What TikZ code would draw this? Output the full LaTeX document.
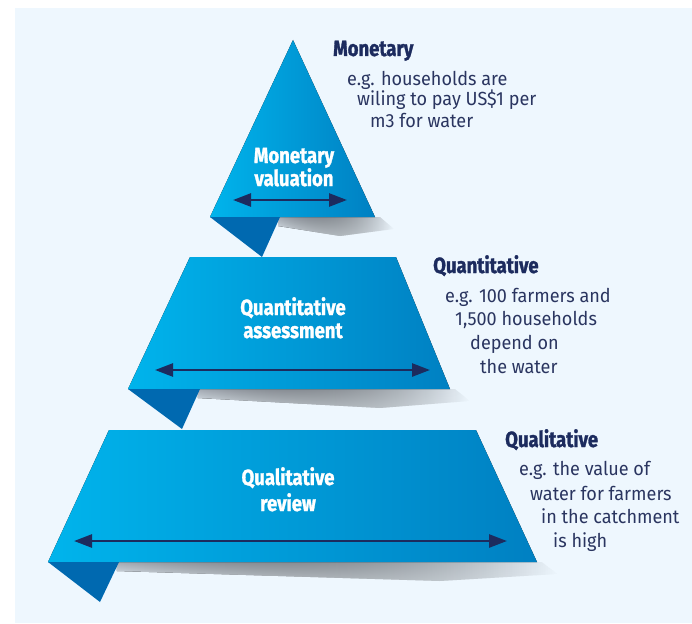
\documentclass[tikz,border=0pt]{standalone}
\usepackage{fontspec}
\setmainfont{Fira Sans}
\newfontfamily\headfont{Fira Sans}[FakeStretch=0.84, FakeBold=1.3]
\newfontfamily\bodyfont{Fira Sans}[FakeStretch=0.95]
\usetikzlibrary{arrows.meta, fadings}
\definecolor{bgpanel}{HTML}{EEF7FE}
\definecolor{skyA}{HTML}{00B4EC}
\definecolor{skyB}{HTML}{0080C2}
\definecolor{foldblue}{HTML}{0069B0}
\definecolor{navy}{HTML}{1C2B5E}
\definecolor{inknavy}{HTML}{2A3560}
\definecolor{shadowgrey}{HTML}{A4ABB4}

\tikzfading[name=fade shadow, left color=transparent!0, middle color=transparent!15,
  right color=transparent!100]

\tikzset{
  band/.style={left color=skyA, middle color=skyA!85!skyB, right color=skyB, draw=none},
  fold/.style={fill=foldblue, draw=none},
  shade below/.style={top color=shadowgrey, bottom color=bgpanel, draw=none,
    path fading=fade shadow},
  span/.style={draw=navy, line width=2.6pt,
    {Triangle[length=18pt,width=13pt]}-{Triangle[length=18pt,width=13pt]}},
  label/.style={text=white, font=\headfont\bfseries\fontsize{22}{23}\selectfont,
    anchor=base, inner sep=0pt},
  heading/.style={text=navy, font=\headfont\bfseries\fontsize{22}{23}\selectfont,
    anchor=base west, inner sep=0pt},
  note/.style={text=inknavy, font=\bodyfont\fontsize{19}{20}\selectfont,
    anchor=base west, inner sep=0pt},
}

\begin{document}
\begin{tikzpicture}[x=1pt, y=-1pt]
  \useasboundingbox (0,0) rectangle (692,623);
  \fill[white] (0,0) rectangle (692,623);
  \fill[bgpanel] (15,8) rectangle (692,623);

  % ---- top tier: triangle ----
  \fill[shade below] (278,217) -- (380,217) -- (394,229) -- (340,236) -- (278,226) -- cycle;
  \fill[band] (293,40) -- (375,217) -- (210,217) -- cycle;
  \fill[fold] (210,217) -- (280,217) -- (262,257) -- cycle;
  \coordinate (t1l) at (233,200);
  \coordinate (t1r) at (347,200);
  \draw[span] (t1l) -- (t1r);
  \node[label] (t1a) at (294,163) {Monetary};
  \node[label] (t1b) at (294,186) {valuation};

  % ---- middle tier ----
  \fill[shade below] (198,389) -- (455,389) -- (470,401) -- (380,408) -- (198,398) -- cycle;
  \fill[band] (190,257) -- (396,257) -- (450,389) -- (128,389) -- cycle;
  \fill[fold] (128,389) -- (200,389) -- (182,429) -- cycle;
  \coordinate (t2l) at (155,370);
  \coordinate (t2r) at (430,370);
  \draw[span] (t2l) -- (t2r);
  \node[label] (t2a) at (293,315) {Quantitative};
  \node[label] (t2b) at (293,338) {assessment};

  % ---- bottom tier ----
  \fill[shade below] (117,562) -- (542,562) -- (558,574) -- (440,581) -- (117,571) -- cycle;
  \fill[band] (109,430) -- (476,430) -- (537,562) -- (48,562) -- cycle;
  \fill[fold] (48,562) -- (119,562) -- (100,602) -- cycle;
  \coordinate (t3l) at (74,541);
  \coordinate (t3r) at (507,541);
  \draw[span] (t3l) -- (t3r);
  \node[label] (t3a) at (288,485) {Qualitative};
  \node[label] (t3b) at (288,511) {review};

  % ---- side notes ----
  \node[heading] (h1) at (333,56) {Monetary};
  \node[note] (n1a) at (347,85) {e.g. households are};
  \node[note] (n1b) at (357,106) {wiling to pay US\$1 per};
  \node[note] (n1c) at (370,127) {m3 for water};

  \node[heading] (h2) at (433,273) {Quantitative};
  \node[note] (n2a) at (445,302) {e.g. 100 farmers and};
  \node[note] (n2b) at (455,325) {1,500 households};
  \node[note] (n2c) at (470,349) {depend on};
  \node[note] (n2d) at (480,373) {the water};

  \node[heading] (h3) at (505,447) {Qualitative};
  \node[note] (n3a) at (519,475) {e.g. the value of};
  \node[note] (n3b) at (530,500) {water for farmers};
  \node[note] (n3c) at (541,523) {in the catchment};
  \node[note] (n3d) at (553,547) {is high};
\end{tikzpicture}
\end{document}
